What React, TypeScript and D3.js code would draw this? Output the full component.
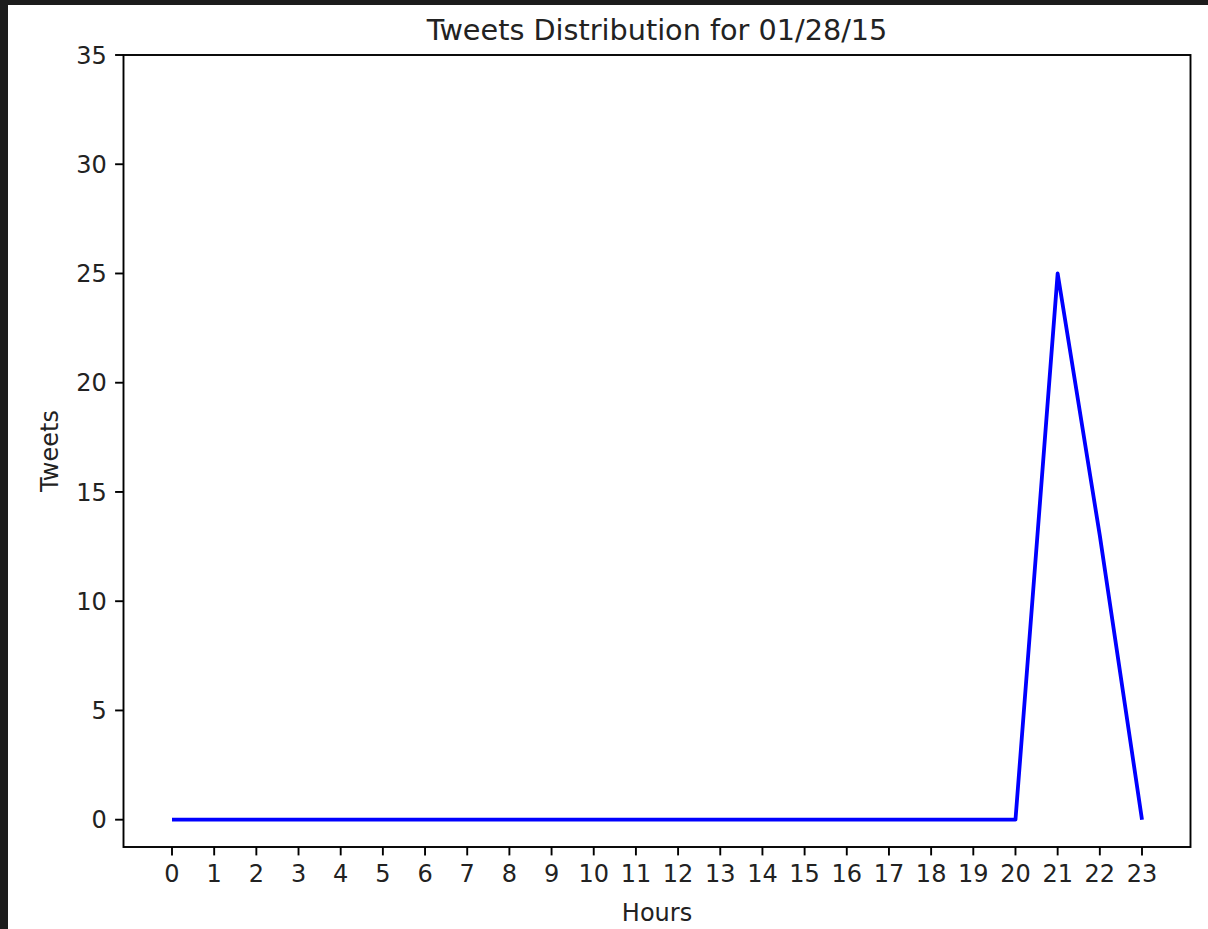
import React from 'react';
import * as d3 from 'd3';

// 1時間ごとのツイート数
const hours = d3.range(0, 24);
const tweets = [0, 0, 0, 0, 0, 0, 0, 0, 0, 0, 0, 0, 0, 0, 0, 0, 0, 0, 0, 0, 0, 25, 13, 0];
const yTicks = [0, 5, 10, 15, 20, 25, 30, 35];
const title = 'Tweets Distribution for 01/28/15';
const xLabel = 'Hours';
const yLabel = 'Tweets';

const W = 1208;
const H = 929;
// 軸の枠
const plot = { left: 123.5, top: 55, right: 1190.5, bottom: 847 };
const font = 'DejaVu Sans, sans-serif';
const tickLen = 8.4;
const pad = 8.4;

const App = () => {
  const x = d3.scaleLinear().domain([-1.15, 24.15]).range([plot.left, plot.right]);
  const y = d3.scaleLinear().domain([-1.25, 35]).range([plot.bottom, plot.top]);

  const line = d3.line<number>()
    .x((d, i) => x(hours[i]))
    .y(d => y(d));

  const midX = (plot.left + plot.right) / 2;
  const midY = (plot.top + plot.bottom) / 2;

  return (
    <div style={{ position: 'absolute', left: 0, top: 0 }}>
      <svg width={W} height={H} style={{ display: 'block', background: '#fff' }}>
        {/* 外側の暗い枠 */}
        <rect x={0} y={0} width={W} height={5} fill="#1c1c1c" />
        <rect x={0} y={0} width={8} height={H} fill="#1c1c1c" />

        {/* データ線 */}
        <path d={line(tweets) || ''} fill="none" stroke="#0000ff" strokeWidth={3.8} strokeLinejoin="round" />

        {/* 枠線 */}
        <rect x={plot.left} y={plot.top} width={plot.right - plot.left} height={plot.bottom - plot.top}
          fill="none" stroke="#000" strokeWidth={1.9} />

        {/* X軸の目盛り */}
        {hours.map(h => (
          <g key={'x' + h} transform={`translate(${x(h)},${plot.bottom})`}>
            <line y1={0} y2={tickLen} stroke="#000" strokeWidth={1.9} />
            <text y={tickLen + pad + 18} textAnchor="middle" fontFamily={font} fontSize={24} fill="#222">{h}</text>
          </g>
        ))}

        {/* Y軸の目盛り */}
        {yTicks.map(t => (
          <g key={'y' + t} transform={`translate(${plot.left},${y(t)})`}>
            <line x1={0} x2={-tickLen} stroke="#000" strokeWidth={1.9} />
            <text x={-tickLen - pad} dy="0.36em" textAnchor="end" fontFamily={font} fontSize={24} fill="#222">{t}</text>
          </g>
        ))}

        {/* タイトルとラベル */}
        <text x={midX} y={40} textAnchor="middle" fontFamily={font} fontSize={28.7} fill="#222">{title}</text>
        <text x={midX} y={921} textAnchor="middle" fontFamily={font} fontSize={24} fill="#222">{xLabel}</text>
        <text transform={`translate(58,${midY}) rotate(-90)`} textAnchor="middle" fontFamily={font} fontSize={24} fill="#222">{yLabel}</text>
      </svg>
    </div>
  );
};

export default App;
